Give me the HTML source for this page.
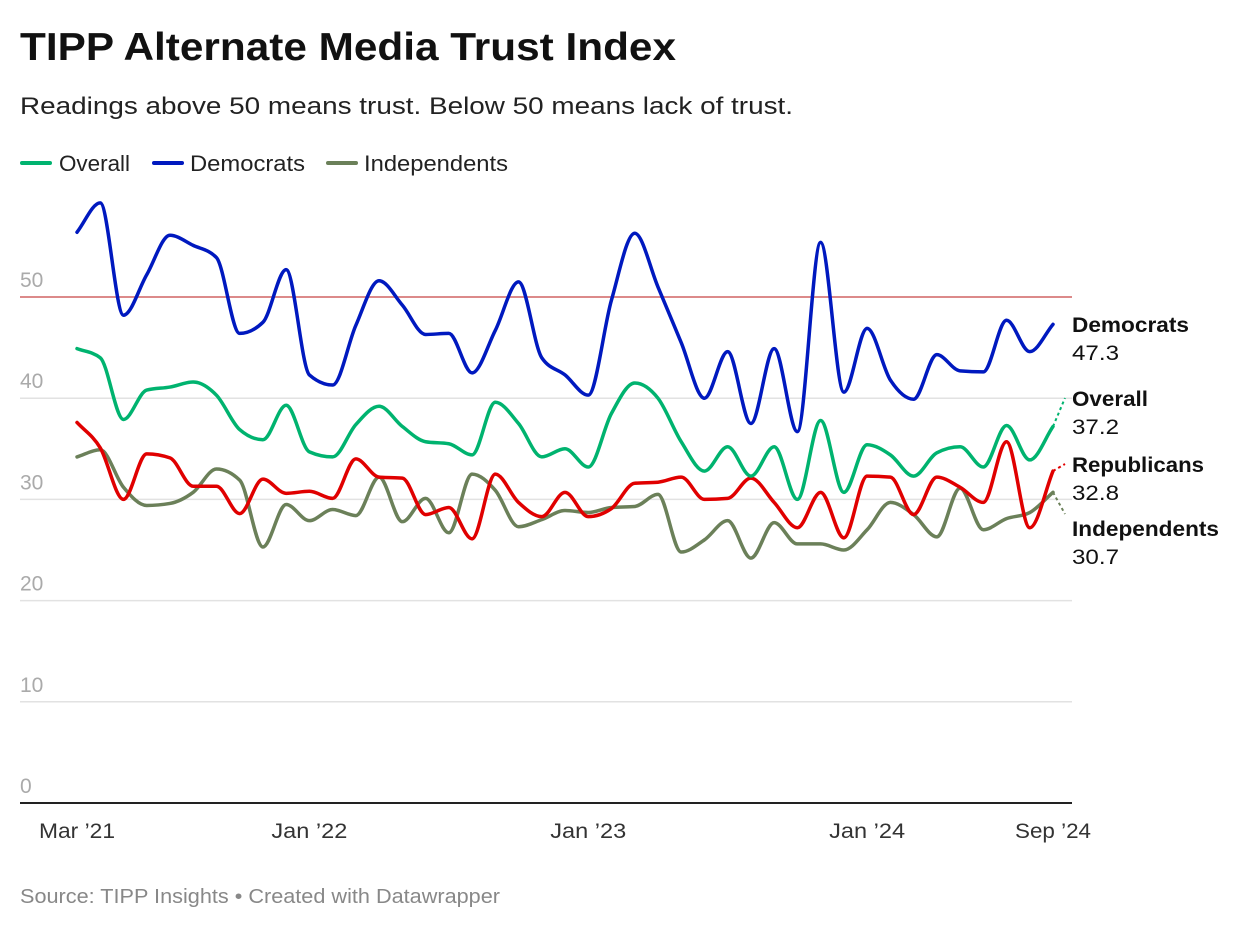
<!DOCTYPE html>
<html><head><meta charset="utf-8">
<style>
body{margin:0;background:#fff;font-family:"Liberation Sans",sans-serif;}
#wrap{position:relative;width:1240px;height:930px;overflow:hidden;}
</style></head>
<body>
<div id="wrap">
<svg id="chart" width="1240" height="930" xmlns="http://www.w3.org/2000/svg">
<text x="20" y="60" font-size="39" font-weight="bold" fill="#111" textLength="656" lengthAdjust="spacingAndGlyphs">TIPP Alternate Media Trust Index</text>
<text x="20" y="114" font-size="24" fill="#222" textLength="773" lengthAdjust="spacingAndGlyphs">Readings above 50 means trust. Below 50 means lack of trust.</text>
<g>
<g><line x1="22" y1="163" x2="50" y2="163" stroke="#00b36f" stroke-width="4" stroke-linecap="round"/><text x="59" y="171" font-size="22" fill="#222" textLength="71" lengthAdjust="spacingAndGlyphs">Overall</text></g>
<g><line x1="154" y1="163" x2="182" y2="163" stroke="#0019bf" stroke-width="4" stroke-linecap="round"/><text x="190" y="171" font-size="22" fill="#222" textLength="115" lengthAdjust="spacingAndGlyphs">Democrats</text></g>
<g><line x1="328" y1="163" x2="356" y2="163" stroke="#6b8059" stroke-width="4" stroke-linecap="round"/><text x="364" y="171" font-size="22" fill="#222" textLength="144" lengthAdjust="spacingAndGlyphs">Independents</text></g>
</g>
<g id="grid"></g>
<g id="yticks"></g>
<g id="xticks"></g>
<g id="lines"></g>
<g id="labels"></g>
<text x="20" y="903" font-size="20" fill="#888" textLength="480" lengthAdjust="spacingAndGlyphs">Source: TIPP Insights • Created with Datawrapper</text>
</svg>
</div>
<script>
const yTicks=[0,10,20,30,40,50];
const xTickLabels=["Mar ’21","Jan ’22","Jan ’23","Jan ’24","Sep ’24"];
const xTickIndex=[0,10,22,34,42];
const democrats=[56.4,59.3,48.2,52.2,56.1,55.1,53.9,46.4,47.5,52.7,42.3,41.3,47.2,51.6,49.2,46.3,46.4,42.5,46.7,51.5,44.0,42.3,40.3,49.7,56.3,51.0,45.5,40.0,44.6,37.5,44.9,36.7,55.4,40.6,46.9,41.8,39.9,44.3,42.7,42.6,47.7,44.6,47.3];
const overall=[44.9,44.0,37.9,40.8,41.1,41.6,40.3,36.9,35.9,39.3,34.7,34.2,37.4,39.2,37.2,35.7,35.5,34.4,39.6,37.5,34.2,35.0,33.2,38.5,41.5,40.0,35.7,32.8,35.2,32.3,35.2,30.0,37.8,30.7,35.4,34.4,32.3,34.6,35.2,33.2,37.3,33.9,37.2];
const republicans=[37.6,35.1,30.0,34.5,34.1,31.3,31.3,28.6,32.0,30.6,30.8,30.1,34.0,32.2,32.1,28.5,29.2,26.1,32.5,29.7,28.3,30.7,28.3,29.1,31.6,31.7,32.2,30.0,30.1,32.1,29.7,27.2,30.7,26.2,32.3,32.2,28.5,32.2,31.2,29.7,35.7,27.2,32.8];
const independents=[34.2,34.9,31.2,29.4,29.6,30.7,33.0,31.9,25.3,29.5,27.9,29.0,28.4,32.2,27.8,30.1,26.7,32.5,30.9,27.3,28.0,28.9,28.7,29.2,29.3,30.5,24.8,26.0,27.9,24.2,27.7,25.6,25.6,25.0,27.0,29.7,28.5,26.3,31.1,27.0,28.1,28.7,30.7];
const refValue=50;

const NS="http://www.w3.org/2000/svg";
const X0=77,X1=1053,Y0=803,Y50=297,NP=democrats.length;
function xs(i){return X0+(X1-X0)*i/(NP-1);}
function ys(v){return Y0-(Y0-Y50)*v/50;}
function mk(tag,attrs,parent){const e=document.createElementNS(NS,tag);for(const k in attrs)e.setAttribute(k,attrs[k]);parent.appendChild(e);return e;}
const grid=document.getElementById('grid'),yt=document.getElementById('yticks'),xt=document.getElementById('xticks'),lg=document.getElementById('lines'),lb=document.getElementById('labels');
yTicks.forEach(t=>{
  if(t>0&&t!==refValue){const l=mk('line',{x1:20,x2:1072,y1:ys(t),y2:ys(t),stroke:'#e2e2e2','stroke-width':1.5},grid);
  
  }
  const tx=mk('text',{x:20,y:ys(t)-10,'font-size':21,fill:'#aaa'},yt);tx.textContent=t;
  
  
});
const ref=mk('line',{x1:20,x2:1072,y1:ys(refValue),y2:ys(refValue),stroke:'#dc8a8a','stroke-width':2},grid);


const base=mk('line',{x1:20,x2:1072,y1:Y0,y2:Y0,stroke:'#222','stroke-width':2},grid);


xTickLabels.forEach((s,k)=>{
  const tx=mk('text',{x:xs(xTickIndex[k]),y:838,'font-size':21,fill:'#333','text-anchor':'middle',textLength:76,lengthAdjust:'spacingAndGlyphs'},xt);tx.textContent=s;
  
  
});
function monotone(pts){
  const n=pts.length,dx=[],m=[],t=[];
  for(let i=0;i<n-1;i++){dx.push(pts[i+1][0]-pts[i][0]);m.push((pts[i+1][1]-pts[i][1])/dx[i]);}
  t[0]=m[0];t[n-1]=m[n-2];
  for(let i=1;i<n-1;i++){if(m[i-1]*m[i]<=0)t[i]=0;else{const h0=dx[i-1],h1=dx[i];const p=(m[i-1]*h1+m[i]*h0)/(h0+h1);t[i]=(Math.sign(m[i-1])+Math.sign(m[i]))*Math.min(Math.abs(m[i-1]),Math.abs(m[i]),0.5*Math.abs(p));}}
  let d='M'+pts[0][0]+','+pts[0][1];
  for(let i=0;i<n-1;i++){const h=dx[i]/3;d+=' C'+(pts[i][0]+h)+','+(pts[i][1]+h*t[i])+' '+(pts[i+1][0]-h)+','+(pts[i+1][1]-h*t[i+1])+' '+pts[i+1][0]+','+pts[i+1][1];}
  return d;
}
const series=[
 {name:'independents',label:'Independents',data:independents,color:'#6b8059',ly:528,cy:514,w:147},
 {name:'republicans',label:'Republicans',data:republicans,color:'#e00000',ly:464,cy:464,w:132},
 {name:'overall',label:'Overall',data:overall,color:'#00b36f',ly:398,cy:398,w:76},
 {name:'democrats',label:'Democrats',data:democrats,color:'#0019bf',ly:324,cy:null,w:117}
];
series.forEach(s=>{
  const pts=s.data.map((v,i)=>[xs(i),ys(v)]);
  const p=mk('path',{d:monotone(pts),fill:'none',stroke:s.color,'stroke-width':3.5,'stroke-linejoin':'round','stroke-linecap':'round'},lg);
  
  
  const last=pts[pts.length-1];
  if(s.cy!==null){
    const dl=mk('line',{x1:last[0],y1:last[1],x2:1065,y2:s.cy,stroke:s.color,'stroke-width':2,'stroke-dasharray':'3,3'},lb);
    
    
  }
  const t1=mk('text',{x:1072,y:s.ly+8,'font-size':21,'font-weight':'bold',fill:'#111',textLength:s.w,lengthAdjust:'spacingAndGlyphs'},lb);t1.textContent=s.label;
  
  
  const t2=mk('text',{x:1072,y:s.ly+36,'font-size':21,fill:'#111',textLength:47,lengthAdjust:'spacingAndGlyphs'},lb);t2.textContent=s.data[s.data.length-1].toFixed(1);
  
  
});
</script>
</body></html>
